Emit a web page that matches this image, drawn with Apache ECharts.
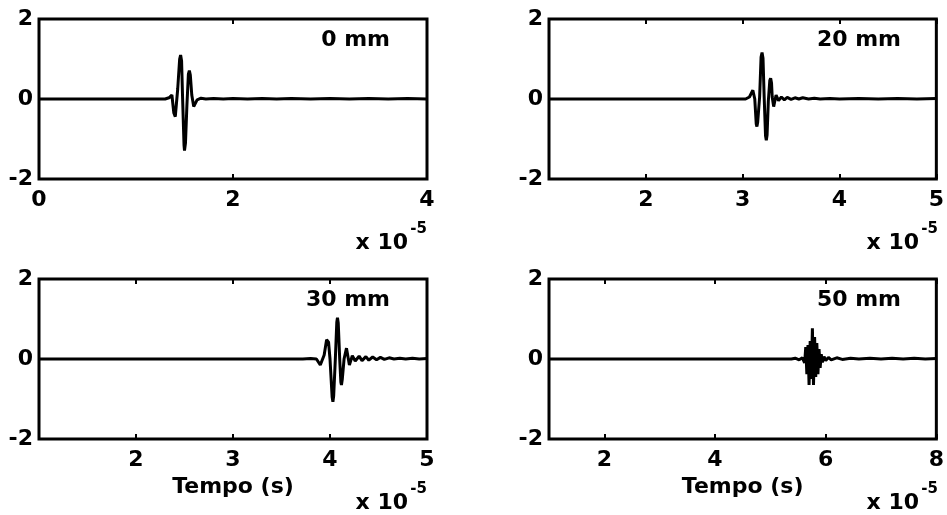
<!DOCTYPE html>
<html>
<head>
<meta charset="utf-8">
<script src="https://cdn.jsdelivr.net/npm/echarts@6/dist/echarts.min.js"></script>
<style>
  html, body { margin: 0; padding: 0; background: #fff; }
  #chart { width: 947px; height: 515px; }
</style>
</head>
<body>
<div id="chart"></div>
<script>
// Ultrasonic pulses received at four distances (time in units of 1e-5 s).
const panelTitles = ['0 mm', '20 mm', '30 mm', '50 mm'];

// x-axis limits and tick labels per panel (units of 1e-5 s)
const xMins = [0, 1, 1, 1];
const xMaxs = [4, 5, 5, 8];
const xTicks = [
  [0, 2, 4],
  [2, 3, 4, 5],
  [2, 3, 4, 5],
  [2, 4, 6, 8]
];
const yTicks = [-2, 0, 2];

// Signal samples [time, amplitude]
const pulse0mm = [
  [0, 0], [1.30, 0], [1.34, 0.03], [1.37, 0.10], [1.39, -0.35], [1.405, -0.44],
  [1.43, 0.25], [1.45, 1.00], [1.46, 1.10], [1.47, 0.95], [1.48, 0.05],
  [1.495, -1.15], [1.50, -1.29], [1.51, -1.10], [1.525, -0.15], [1.54, 0.62],
  [1.55, 0.71], [1.56, 0.60], [1.575, 0.10], [1.595, -0.19], [1.63, -0.02],
  [1.67, 0.02], [1.72, 0.00], [1.80, 0.01], [1.90, 0.00], [2.00, 0.01],
  [2.15, 0.00], [2.30, 0.01], [2.45, 0.00], [2.60, 0.01], [2.80, 0.00],
  [3.00, 0.01], [3.20, 0.00], [3.40, 0.01], [3.60, 0.00], [3.80, 0.01],
  [4.00, 0.00]
];
const pulse20mm = [
  [1, 0], [3.03, 0], [3.07, 0.05], [3.105, 0.22], [3.125, 0.00], [3.14, -0.62],
  [3.147, -0.69], [3.155, -0.58], [3.175, 0.05], [3.19, 1.05], [3.20, 1.16],
  [3.21, 1.02], [3.222, 0.05], [3.236, -0.92], [3.244, -1.03], [3.252, -0.90],
  [3.265, -0.05], [3.28, 0.46], [3.289, 0.52], [3.298, 0.40], [3.305, 0.05],
  [3.32, -0.19], [3.345, 0.10], [3.37, -0.04], [3.40, 0.05], [3.43, -0.02],
  [3.46, 0.04], [3.50, -0.01], [3.54, 0.03], [3.58, 0.00], [3.62, 0.03],
  [3.68, 0.00], [3.74, 0.02], [3.80, 0.00], [3.90, 0.01], [4.00, 0.00],
  [4.20, 0.01], [4.40, 0.00], [4.60, 0.01], [4.80, 0.00], [5.00, 0.01]
];
const pulse30mm = [
  [1, 0], [3.72, 0], [3.80, 0.01], [3.86, 0.00], [3.90, -0.15], [3.94, 0.10],
  [3.965, 0.48], [3.975, 0.53], [3.985, 0.42], [4.00, 0.00], [4.022, -0.95],
  [4.03, -1.07], [4.038, -0.92], [4.055, 0.00], [4.07, 0.92], [4.077, 1.03],
  [4.085, 0.90], [4.10, 0.00], [4.112, -0.58], [4.118, -0.65], [4.126, -0.52],
  [4.145, 0.00], [4.17, 0.27], [4.20, -0.15], [4.23, 0.08], [4.26, -0.05],
  [4.30, 0.07], [4.33, -0.04], [4.37, 0.06], [4.40, -0.03], [4.44, 0.05],
  [4.48, -0.02], [4.52, 0.04], [4.56, -0.01], [4.61, 0.03], [4.66, 0.00],
  [4.72, 0.02], [4.78, 0.00], [4.85, 0.02], [4.92, 0.00], [5.00, 0.01]
];
const pulse50mm = [
  [1, 0], [5.38, 0], [5.45, 0.02], [5.52, -0.02], [5.58, 0.03], [5.62, -0.10],
  [5.64, 0.30], [5.66, -0.38], [5.68, 0.35], [5.70, -0.65], [5.72, 0.45],
  [5.74, -0.50], [5.76, 0.77], [5.78, -0.65], [5.80, 0.55], [5.82, -0.45],
  [5.84, 0.40], [5.86, -0.38], [5.88, 0.25], [5.90, -0.22], [5.92, 0.12],
  [5.94, -0.08], [5.97, 0.06], [6.00, -0.04], [6.05, 0.04], [6.10, -0.02],
  [6.20, 0.03], [6.30, -0.01], [6.45, 0.02], [6.60, 0.00], [6.80, 0.02],
  [7.00, 0.00], [7.20, 0.02], [7.40, 0.00], [7.60, 0.02], [7.80, 0.00],
  [8.00, 0.01]
];
const pulses = [pulse0mm, pulse20mm, pulse30mm, pulse50mm];

// Panel layout (pixels)
const panels = [
  { left: 39,  top: 19,  width: 388, height: 160 },
  { left: 549, top: 19,  width: 389, height: 160 },
  { left: 39,  top: 279, width: 388, height: 160 },
  { left: 549, top: 279, width: 389, height: 160 }
];
const showXName = [false, false, true, true];

const FONT = '"DejaVu Sans", "Liberation Sans", Arial, sans-serif';
const INK = '#000';

const grid = [], xAxis = [], yAxis = [], series = [], graphic = [];

panels.forEach((p, i) => {
  grid.push({
    left: p.left, top: p.top, width: p.width, height: p.height,
    show: true, borderColor: INK, borderWidth: 3, backgroundColor: '#fff',
    containLabel: false
  });
  const tickStyle = { show: true, inside: true, length: 5, lineStyle: { color: INK, width: 2 } };
  const hiddenLine = { show: false, onZero: false };
  // bottom x axis with labels
  xAxis.push({
    type: 'value', gridIndex: i, position: 'bottom',
    min: xMins[i], max: xMaxs[i],
    axisLine: hiddenLine,
    splitLine: { show: false },
    axisTick: Object.assign({ customValues: xTicks[i] }, tickStyle),
    axisLabel: {
      customValues: xTicks[i], margin: 10, color: INK,
      fontFamily: FONT, fontWeight: 'bold', fontSize: 22
    },
    name: showXName[i] ? 'Tempo (s)' : '',
    nameLocation: 'middle', nameGap: 37,
    nameTextStyle: { color: INK, fontFamily: FONT, fontWeight: 'bold', fontSize: 22 }
  });
  // mirrored top ticks
  xAxis.push({
    type: 'value', gridIndex: i, position: 'top',
    min: xMins[i], max: xMaxs[i],
    axisLine: hiddenLine, splitLine: { show: false },
    axisTick: Object.assign({ customValues: xTicks[i] }, tickStyle),
    axisLabel: { show: false }
  });
  yAxis.push({
    type: 'value', gridIndex: i, position: 'left',
    min: -2, max: 2,
    axisLine: hiddenLine, splitLine: { show: false },
    axisTick: Object.assign({ customValues: yTicks }, tickStyle),
    axisLabel: {
      customValues: yTicks, margin: 6, color: INK,
      fontFamily: FONT, fontWeight: 'bold', fontSize: 22,
      padding: [5, 0, 0, 0]
    }
  });
  // mirrored right ticks
  yAxis.push({
    type: 'value', gridIndex: i, position: 'right',
    min: -2, max: 2,
    axisLine: hiddenLine, splitLine: { show: false },
    axisTick: Object.assign({ customValues: yTicks }, tickStyle),
    axisLabel: { show: false }
  });
  series.push({
    type: 'line', xAxisIndex: 2 * i, yAxisIndex: 2 * i,
    data: pulses[i], showSymbol: false, symbol: 'none',
    lineStyle: { color: INK, width: 3 },
    animation: false, z: 3
  });

  const right = p.left + p.width;
  const axisY = p.top + p.height;
  // panel caption
  graphic.push({
    type: 'text', x: p.left + p.width - 37, y: p.top + 21, z: 10,
    style: { text: panelTitles[i], fill: INK, font: 'bold 22px ' + FONT,
             align: 'right', verticalAlign: 'middle' }
  });
  // axis exponent "x 10^-5"
  graphic.push({
    type: 'text', x: right - 19, y: axisY + 64, z: 10,
    style: { text: 'x 10', fill: INK, font: 'bold 22px ' + FONT,
             align: 'right', verticalAlign: 'middle' }
  });
  graphic.push({
    type: 'text', x: right, y: axisY + 50, z: 10,
    style: { text: '-5', fill: INK, font: 'bold 15px ' + FONT,
             align: 'right', verticalAlign: 'middle' }
  });
});

const chart = echarts.init(document.getElementById('chart'), null, { renderer: 'canvas' });
chart.setOption({
  backgroundColor: '#fff',
  animation: false,
  grid, xAxis, yAxis, series, graphic
});
</script>
</body>
</html>
